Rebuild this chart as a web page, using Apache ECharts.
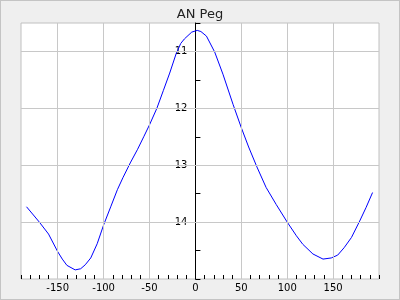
<!DOCTYPE html>
<html>
<head>
<meta charset="utf-8">
<script src="https://cdn.jsdelivr.net/npm/echarts@6/dist/echarts.min.js"></script>
<style>
html,body{margin:0;padding:0;background:#efefef;}
#c{width:400px;height:300px;box-sizing:border-box;border:1px solid #c4c4c4;}
</style>
</head>
<body>
<div id="c"></div>
<script>
var titleText = "AN Peg";
var phase = [-184,-170,-160,-150,-145,-140,-131,-125,-120,-114,-107,-100,-92,-85,-79,-71,-63,-56,-50,-42,-35,-28,-21,-16,-12,-4,2,6,12,21,30,41,50,58,67,77,88,100,110,117,128,139,148,155,162,170,179,186,193];
var mag = [13.73,14.00,14.21,14.52,14.65,14.76,14.84,14.82,14.75,14.63,14.38,14.05,13.72,13.43,13.22,12.96,12.72,12.49,12.29,12.00,11.69,11.38,11.04,10.86,10.78,10.66,10.63,10.65,10.73,11.01,11.40,11.93,12.34,12.68,13.03,13.39,13.69,14.00,14.24,14.39,14.56,14.65,14.63,14.58,14.45,14.27,13.98,13.74,13.48];
var xGrid = [-150,-100,-50,50,100,150];
var yGrid = [11,12,13,14];

var pts = phase.map(function(p,i){return [p, mag[i]];});
var gridLines = xGrid.map(function(v){return {xAxis:v};}).concat(yGrid.map(function(v){return {yAxis:v};}));
var gridLeft = 20;

var chart = echarts.init(document.getElementById('c'), null, {renderer:'canvas'});
var option = {
  animation:false,
  backgroundColor:'#efefef',
  title:{text:titleText,left:'center',top:2,textStyle:{fontFamily:'DejaVu Sans',fontSize:13,fontWeight:'normal',color:'#222'}},
  grid:{left:gridLeft,right:20,top:22,bottom:20,containLabel:false,outerBoundsMode:'none',show:true,backgroundColor:'#ffffff',borderColor:'#c0c0c0',borderWidth:1},
  xAxis:{type:'value',min:-190,max:200,interval:10,
    axisLine:{show:false,onZero:false},
    axisTick:{show:true,inside:true,length:4,lineStyle:{color:'#000'}},
    splitLine:{show:false},
    axisLabel:{margin:4,fontFamily:'DejaVu Sans',fontSize:10,color:'#000',showMinLabel:true,showMaxLabel:true,
      formatter:function(v){return (v%50===0 && Math.abs(v)<190)?String(v):'';}}},
  yAxis:{type:'value',inverse:true,min:10.5,max:15,interval:0.5,z:3,offset:0,
    axisLine:{show:true,onZero:false,lineStyle:{color:'#000',width:1}},
    axisTick:{show:true,inside:true,length:5,lineStyle:{color:'#000'}},
    splitLine:{show:false},
    axisLabel:{margin:8,fontFamily:'DejaVu Sans',fontSize:10,color:'#000',
      formatter:function(v){return (Math.abs(v-Math.round(v))<1e-6 && v>10.6 && v<14.9)?String(Math.round(v)):'';}}},
  series:[
    {type:'line',data:[],z:1,silent:true,
      markLine:{silent:true,symbol:'none',label:{show:false},animation:false,
        lineStyle:{color:'#c8c8c8',width:1,type:'solid'},data:gridLines}},
    {type:'line',data:pts,z:4,showSymbol:false,symbol:'none',smooth:false,
      lineStyle:{color:'#0000ff',width:1}}
  ]
};
chart.setOption(option);
var zeroPx = chart.convertToPixel({xAxisIndex:0}, 0);
chart.setOption({yAxis:{offset:-(zeroPx - gridLeft)}});
</script>
</body>
</html>
